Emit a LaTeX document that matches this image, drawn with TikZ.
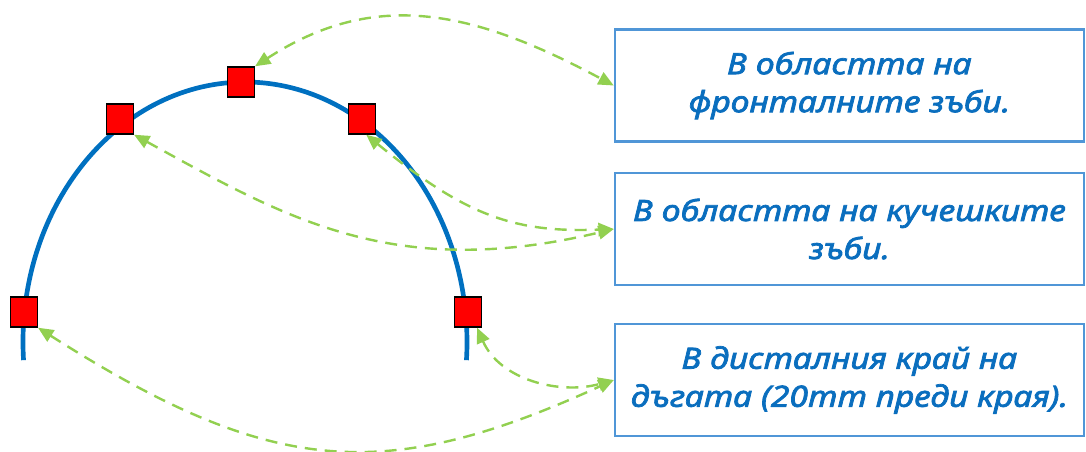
\documentclass[tikz,border=0pt]{standalone}
\usepackage{fontspec}
\setmainfont{Liberation Sans}
\newfontfamily\boxfont[Script=Cyrillic,Language=Bulgarian,ItalicFeatures={FakeBold=2.5,FakeStretch=1.15}]{Noto Sans}
\usetikzlibrary{arrows.meta}
\definecolor{archblue}{RGB}{0,112,192}
\definecolor{boxblue}{RGB}{80,150,215}
\definecolor{txtblue}{RGB}{10,110,190}
\definecolor{lgreen}{RGB}{146,208,80}
\tikzset{
  bracket/.style={red, fill=red, draw=black, line width=1.1pt, minimum width=20pt, minimum height=22.5pt, inner sep=0pt},
  infobox/.style={draw=boxblue, fill=white, line width=1.6pt, minimum width=352pt, minimum height=84pt, inner sep=0pt,
    align=center, text=txtblue, font=\boxfont\fontsize{22}{28.5}\selectfont\itshape},
  link/.style={draw=lgreen, line width=1.8pt, dash pattern=on 9pt off 6pt, {Triangle[length=11.5pt,width=10pt]}-{Triangle[length=11.5pt,width=10pt]}},
  archline/.style={draw=archblue, line width=3.5pt}
}
\begin{document}
\begin{tikzpicture}[x=0.75pt,y=-0.75pt]
\useasboundingbox (0,0) rectangle (1086,451);
% arch
\draw[archline] (245,342) ++(176:222 and 260) arc[start angle=176, end angle=364, x radius=222, y radius=260];
% brackets
\node[bracket] (s1) at (241,82) {};
\node[bracket] (s2) at (120,119) {};
\node[bracket] (s3) at (362,119) {};
\node[bracket] (s4) at (24,312) {};
\node[bracket] (s5) at (468,312) {};
% boxes
\node[infobox] (b1) at (849.5,85.5) {В областта на\\фронталните зъби.};
\node[infobox] (b2) at (849.5,229) {В областта на кучешките\\зъби.};
\node[infobox] (b3) at (849.5,380) {В дисталния край на\\дъгата (20mm преди края).};
% connectors
\draw[link] (s1.north east) .. controls (375,-11.6) and (473,10.2) .. (b1.west);
\draw[link] (s3.-75) .. controls (465,215) and (513,233) .. (b2.west);
\draw[link] (s2.south east) .. controls (285,217.5) and (393,281.8) .. (b2.west);
\draw[link] (s5.-60) .. controls (500,380) and (560,395) .. (b3.west);
\draw[link] (s4.south east) .. controls (270,475) and (382,486) .. (b3.west);
\end{tikzpicture}
\end{document}
